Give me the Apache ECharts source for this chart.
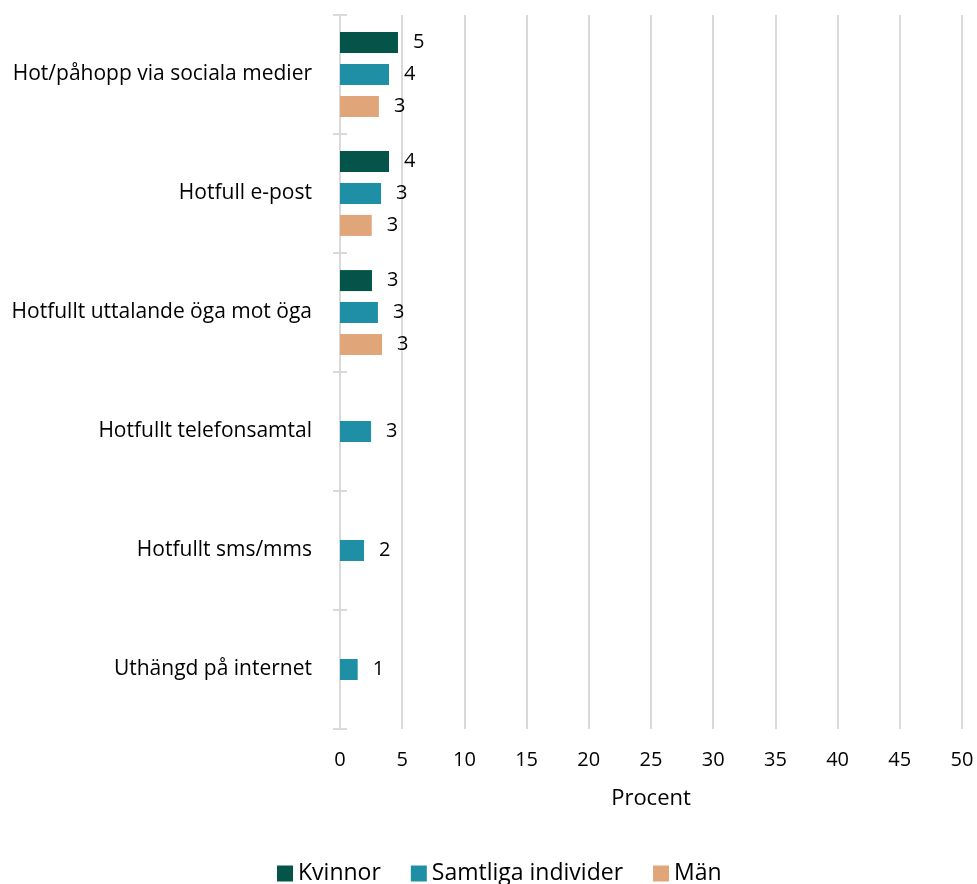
<!DOCTYPE html>
<html><head><meta charset="utf-8">
<script src="https://cdn.jsdelivr.net/npm/echarts@6/dist/echarts.min.js"></script>
<style>html,body{margin:0;padding:0;background:#fff}#c{width:977px;height:884px}</style>
</head><body><div id="c"></div>
<script>
const categories = ["Hot/påhopp via sociala medier","Hotfull e-post","Hotfullt uttalande öga mot öga","Hotfullt telefonsamtal","Hotfullt sms/mms","Uthängd på internet"];
const seriesNames = ["Kvinnor","Samtliga individer","Män"];
const kvinnor = [4.66, 3.94, 2.57, null, null, null];
const samtliga = [3.94, 3.3, 3.05, 2.5, 1.93, 1.42];
const man = [3.13, 2.55, 3.38, null, null, null];
const xTicks = [0,5,10,15,20,25,30,35,40,45,50];
const colors = ["#04544a","#1e8fa5","#e1a57a"];
const FONT = "Open Sans";

const chart = echarts.init(document.getElementById('c'));
const cats = categories.slice().reverse();
const rev = a => a.slice().reverse();
function mk(name, data, color){
  return {
    name, type:'bar', data: rev(data).map(v => v==null ? '-' : v),
    barWidth: 21, barGap: '52%',
    itemStyle:{color},
    label:{show:true, position:'right', distance:15, color:'#000', fontSize:20, fontFamily:FONT,
      formatter: p => Math.round(p.value)}
  };
}
chart.setOption({
  animation:false,
  textStyle:{fontFamily:FONT},
  grid:{left:340, right:15, top:15, bottom:155, containLabel:false},
  legend:{top:857, left:272, itemWidth:16, itemHeight:16, itemGap:30,
    icon:'rect', textStyle:{fontSize:23, color:'#000', fontFamily:FONT}, data:seriesNames},
  xAxis:{type:'value', min:0, max:50, interval:5,
    name:'Procent', nameLocation:'middle', nameGap:59,
    nameTextStyle:{fontSize:22, color:'#000', fontFamily:FONT},
    axisLabel:{fontSize:20, color:'#000', margin:21, fontFamily:FONT,
      customValues: xTicks},
    axisLine:{show:false}, axisTick:{show:false},
    splitLine:{show:true, lineStyle:{color:'#d9d9d9', width:2}}},
  yAxis:[{type:'category', data:cats, inverse:false,
    axisLine:{show:true, lineStyle:{color:'#d9d9d9', width:2}},
    axisTick:{show:true, length:7, lineStyle:{color:'#d9d9d9', width:2}},
    axisLabel:{fontSize:21, color:'#000', margin:28, fontFamily:FONT}},
   {type:'category', data:cats, position:'left', offset:0,
    axisLine:{show:false},
    axisTick:{show:true, inside:true, length:7, lineStyle:{color:'#d9d9d9', width:2}},
    axisLabel:{show:false}}],
  series:[mk(seriesNames[0], kvinnor, colors[0]), mk(seriesNames[1], samtliga, colors[1]), mk(seriesNames[2], man, colors[2])]
});
</script></body></html>
